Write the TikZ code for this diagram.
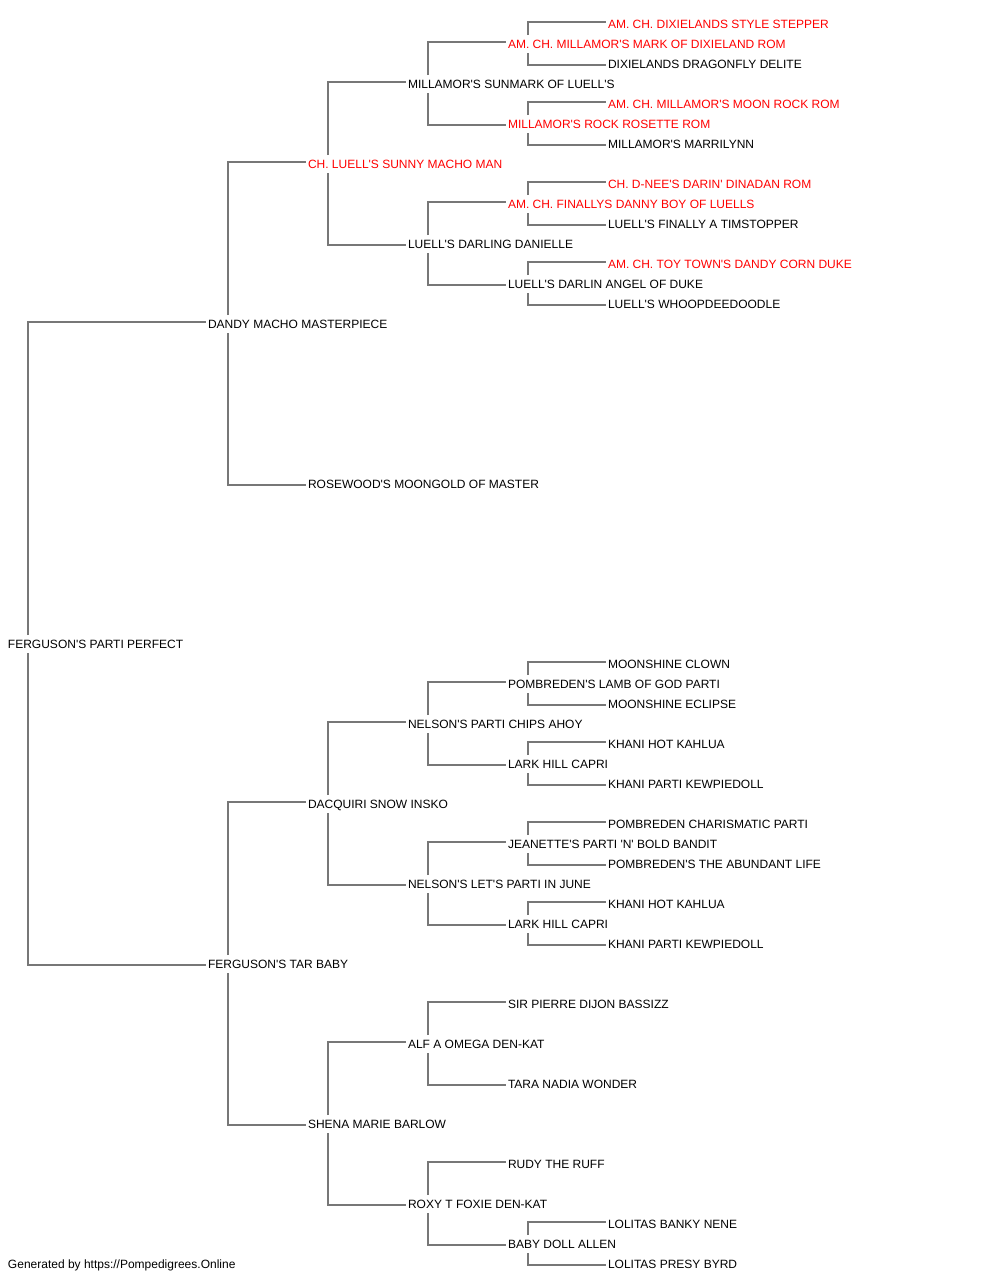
\documentclass[tikz,border=0pt]{standalone}
\usepackage{fontspec}
\newfontfamily\lib{Liberation Sans}
\definecolor{linegray}{RGB}{119,119,119}
\tikzset{
  person/.style={anchor=west, inner sep=0pt, outer sep=0pt, text height=10.2pt, text depth=0pt, font=\lib\fontsize{12}{14}\selectfont, text=black},
  champ/.style={person, text=red},
  conn/.style={draw=linegray, line width=1.5pt}
}
\newcommand\pedlink[3]{%
  \draw[conn] ([xshift=20pt,yshift=8pt]#1.west) |- ([xshift=-2pt,yshift=1pt]#2.west);
  \draw[conn] ([xshift=20pt,yshift=-10pt]#1.west) |- ([xshift=-2pt,yshift=-2pt]#3.west);}
\begin{document}
\begin{tikzpicture}[x=1pt,y=-1pt]
\useasboundingbox (0,0) rectangle (1000,1280);
% generation 0
\node[person] (g) at (8,643) {FERGUSON'S PARTI PERFECT};
% generation 1
\node[person] (s) at (208,323) {DANDY MACHO MASTERPIECE};
\node[person] (d) at (208,963) {FERGUSON'S TAR BABY};
% generation 2
\node[champ] (ss) at (308,163) {CH. LUELL'S SUNNY MACHO MAN};
\node[person] (sd) at (308,483) {ROSEWOOD'S MOONGOLD OF MASTER};
\node[person] (ds) at (308,803) {DACQUIRI SNOW INSKO};
\node[person] (dd) at (308,1123) {SHENA MARIE BARLOW};
% generation 3
\node[person] (sss) at (408,83) {MILLAMOR'S SUNMARK OF LUELL'S};
\node[person] (ssd) at (408,243) {LUELL'S DARLING DANIELLE};
\node[person] (dss) at (408,723) {NELSON'S PARTI CHIPS AHOY};
\node[person] (dsd) at (408,883) {NELSON'S LET'S PARTI IN JUNE};
\node[person] (dds) at (408,1043) {ALF A OMEGA DEN-KAT};
\node[person] (ddd) at (408,1203) {ROXY T FOXIE DEN-KAT};
% generation 4
\node[champ] (ssss) at (508,43) {AM. CH. MILLAMOR'S MARK OF DIXIELAND ROM};
\node[champ] (sssd) at (508,123) {MILLAMOR'S ROCK ROSETTE ROM};
\node[champ] (ssds) at (508,203) {AM. CH. FINALLYS DANNY BOY OF LUELLS};
\node[person] (ssdd) at (508,283) {LUELL'S DARLIN ANGEL OF DUKE};
\node[person] (dsss) at (508,683) {POMBREDEN'S LAMB OF GOD PARTI};
\node[person] (dssd) at (508,763) {LARK HILL CAPRI};
\node[person] (dsds) at (508,843) {JEANETTE'S PARTI 'N' BOLD BANDIT};
\node[person] (dsdd) at (508,923) {LARK HILL CAPRI};
\node[person] (ddss) at (508,1003) {SIR PIERRE DIJON BASSIZZ};
\node[person] (ddsd) at (508,1083) {TARA NADIA WONDER};
\node[person] (ddds) at (508,1163) {RUDY THE RUFF};
\node[person] (dddd) at (508,1243) {BABY DOLL ALLEN};
% generation 5
\node[champ] (sssss) at (608,23) {AM. CH. DIXIELANDS STYLE STEPPER};
\node[person] (ssssd) at (608,63) {DIXIELANDS DRAGONFLY DELITE};
\node[champ] (sssds) at (608,103) {AM. CH. MILLAMOR'S MOON ROCK ROM};
\node[person] (sssdd) at (608,143) {MILLAMOR'S MARRILYNN};
\node[champ] (ssdss) at (608,183) {CH. D-NEE'S DARIN' DINADAN ROM};
\node[person] (ssdsd) at (608,223) {LUELL'S FINALLY A TIMSTOPPER};
\node[champ] (ssdds) at (608,263) {AM. CH. TOY TOWN'S DANDY CORN DUKE};
\node[person] (ssddd) at (608,303) {LUELL'S WHOOPDEEDOODLE};
\node[person] (dssss) at (608,663) {MOONSHINE CLOWN};
\node[person] (dsssd) at (608,703) {MOONSHINE ECLIPSE};
\node[person] (dssds) at (608,743) {KHANI HOT KAHLUA};
\node[person] (dssdd) at (608,783) {KHANI PARTI KEWPIEDOLL};
\node[person] (dsdss) at (608,823) {POMBREDEN CHARISMATIC PARTI};
\node[person] (dsdsd) at (608,863) {POMBREDEN'S THE ABUNDANT LIFE};
\node[person] (dsdds) at (608,903) {KHANI HOT KAHLUA};
\node[person] (dsddd) at (608,943) {KHANI PARTI KEWPIEDOLL};
\node[person] (dddds) at (608,1223) {LOLITAS BANKY NENE};
\node[person] (ddddd) at (608,1263) {LOLITAS PRESY BYRD};
% footer
\node[person] (footer) at (8,1263) {Generated by https://Pompedigrees.Online};
% connectors
\pedlink{g}{s}{d}
\pedlink{s}{ss}{sd}
\pedlink{d}{ds}{dd}
\pedlink{ss}{sss}{ssd}
\pedlink{ds}{dss}{dsd}
\pedlink{dd}{dds}{ddd}
\pedlink{sss}{ssss}{sssd}
\pedlink{ssd}{ssds}{ssdd}
\pedlink{dss}{dsss}{dssd}
\pedlink{dsd}{dsds}{dsdd}
\pedlink{dds}{ddss}{ddsd}
\pedlink{ddd}{ddds}{dddd}
\pedlink{ssss}{sssss}{ssssd}
\pedlink{sssd}{sssds}{sssdd}
\pedlink{ssds}{ssdss}{ssdsd}
\pedlink{ssdd}{ssdds}{ssddd}
\pedlink{dsss}{dssss}{dsssd}
\pedlink{dssd}{dssds}{dssdd}
\pedlink{dsds}{dsdss}{dsdsd}
\pedlink{dsdd}{dsdds}{dsddd}
\pedlink{dddd}{dddds}{ddddd}
\end{tikzpicture}
\end{document}
